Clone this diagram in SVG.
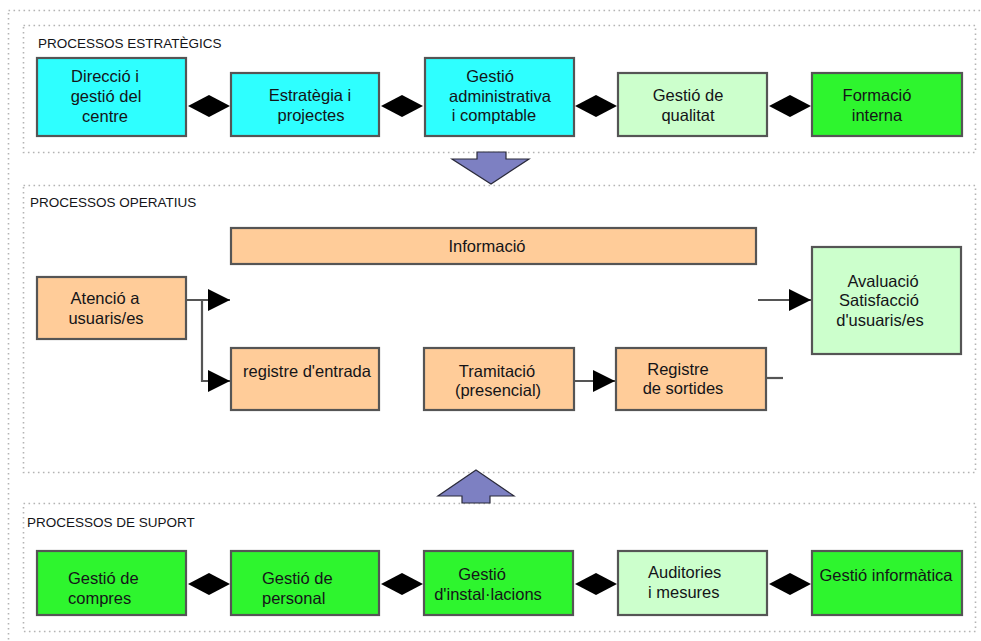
<svg xmlns="http://www.w3.org/2000/svg" width="981" height="641" viewBox="0 0 981 641">
  <style>
    .frame { fill: none; stroke: #b4b4b4; stroke-width: 1.6; stroke-dasharray: 1.6 3.4; }
    .box { stroke: #555; stroke-width: 2.2; }
    .cyan { fill: #2effff; }
    .pale { fill: #ccffcc; }
    .green { fill: #2ef52e; }
    .orange { fill: #ffcc99; }
    text { font-family: "Liberation Sans", Arial, sans-serif; font-size: 16.5px; fill: #141418; }
    .mid { text-anchor: middle; }
    .title { font-size: 13.5px; }
    .wire { fill: none; stroke: #555; stroke-width: 2.2; }
    .big { fill: #7d80c2; stroke: #2a2a3a; stroke-width: 1.2; stroke-linejoin: miter; }
  </style>
  <defs>
    <marker id="arrow" markerUnits="userSpaceOnUse" markerWidth="23" markerHeight="24" refX="22" refY="12" orient="auto">
      <path d="M0,1 L22,12 L0,23 z" fill="#000"/>
    </marker>
    <polygon id="diamond" points="-21,0 0,-11 21,0 0,11" fill="#000"/>
  </defs>

  <rect width="981" height="641" fill="#fff"/>

  <!-- dotted frames -->
  <rect class="frame" x="8.5" y="10.5" width="976" height="636"/>
  <rect class="frame" x="23.5" y="25.5" width="952" height="127"/>
  <rect class="frame" x="23.5" y="185.5" width="952" height="287"/>
  <rect class="frame" x="23.5" y="503.5" width="952" height="128"/>

  <text class="title" x="38" y="48">PROCESSOS ESTRATÈGICS</text>
  <text class="title" x="30" y="207">PROCESSOS OPERATIUS</text>
  <text class="title" x="27" y="527">PROCESSOS DE SUPORT</text>

  <!-- big flow arrows between layers -->
  <path class="big" d="M477,152 L506,152 L506,159 L529,159 L491,184 L452,159 L477,159 z"/>
  <path class="big" d="M476,470 L514,496 L490,496 L490,503 L462,503 L462,496 L438,496 z"/>

  <!-- connectors -->
  <g id="connectors">
    <use href="#diamond" x="209" y="106"/>
    <use href="#diamond" x="402" y="106"/>
    <use href="#diamond" x="596" y="106"/>
    <use href="#diamond" x="790" y="106"/>

    <use href="#diamond" x="209" y="584"/>
    <use href="#diamond" x="402" y="584"/>
    <use href="#diamond" x="596" y="584"/>
    <use href="#diamond" x="790" y="584"/>

    <path class="wire" d="M186,300 L230,300" marker-end="url(#arrow)"/>
    <path class="wire" d="M202,300 L202,381 L230,381" marker-end="url(#arrow)"/>
    <path class="wire" d="M574,381 L615,381" marker-end="url(#arrow)"/>
    <path class="wire" d="M766,378 L783,378"/>
    <path class="wire" d="M758,300 L811,300" marker-end="url(#arrow)"/>
  </g>

  <!-- strategic processes -->
  <g id="direccio">
    <rect class="box cyan" x="37" y="58" width="149" height="78"/>
    <text class="mid" x="105" y="82">Direcció i</text>
    <text class="mid" x="106" y="102">gestió del</text>
    <text class="mid" x="105" y="122">centre</text>
  </g>
  <g id="estrategia">
    <rect class="box cyan" x="231" y="73" width="148" height="63"/>
    <text class="mid" x="310" y="101">Estratègia i</text>
    <text class="mid" x="311" y="121">projectes</text>
  </g>
  <g id="gestio-administrativa">
    <rect class="box cyan" x="425" y="58" width="149" height="78"/>
    <text class="mid" x="490" y="82">Gestió</text>
    <text class="mid" x="500" y="102">administrativa</text>
    <text class="mid" x="494" y="121">i comptable</text>
  </g>
  <g id="qualitat">
    <rect class="box pale" x="618" y="73" width="149" height="63"/>
    <text class="mid" x="688" y="101">Gestió de</text>
    <text class="mid" x="688" y="121">qualitat</text>
  </g>
  <g id="formacio">
    <rect class="box green" x="812" y="73" width="150" height="63"/>
    <text class="mid" x="877" y="101">Formació</text>
    <text class="mid" x="877" y="121">interna</text>
  </g>

  <!-- operational processes -->
  <g id="informacio">
    <rect class="box orange" x="231" y="228" width="525" height="36"/>
    <text class="mid" x="487" y="252">Informació</text>
  </g>
  <g id="atencio">
    <rect class="box orange" x="37" y="277" width="149" height="62"/>
    <text class="mid" x="105" y="304">Atenció a</text>
    <text class="mid" x="106" y="324">usuaris/es</text>
  </g>
  <g id="registre-entrada">
    <rect class="box orange" x="231" y="348" width="148" height="62"/>
    <text class="mid" x="307" y="377">registre d'entrada</text>
  </g>
  <g id="tramitacio">
    <rect class="box orange" x="424" y="348" width="150" height="62"/>
    <text class="mid" x="497" y="377">Tramitació</text>
    <text class="mid" x="498" y="396">(presencial)</text>
  </g>
  <g id="registre-sortides">
    <rect class="box orange" x="616" y="348" width="150" height="62"/>
    <text class="mid" x="678" y="375">Registre</text>
    <text class="mid" x="683" y="394">de sortides</text>
  </g>
  <g id="avaluacio">
    <rect class="box pale" x="812" y="247" width="149" height="107"/>
    <text class="mid" x="883" y="287">Avaluació</text>
    <text class="mid" x="879" y="306">Satisfacció</text>
    <text class="mid" x="880" y="326">d'usuaris/es</text>
  </g>

  <!-- support processes -->
  <g id="compres">
    <rect class="box green" x="37" y="551" width="149" height="64"/>
    <text x="68" y="584">Gestió de</text>
    <text x="68" y="604">compres</text>
  </g>
  <g id="personal">
    <rect class="box green" x="231" y="551" width="148" height="64"/>
    <text x="262" y="584">Gestió de</text>
    <text x="262" y="604">personal</text>
  </g>
  <g id="installacions">
    <rect class="box green" x="424" y="551" width="149" height="64"/>
    <text class="mid" x="482" y="580">Gestió</text>
    <text class="mid" x="488" y="600">d'instal·lacions</text>
  </g>
  <g id="auditories">
    <rect class="box pale" x="618" y="551" width="149" height="64"/>
    <text x="648" y="578">Auditories</text>
    <text x="648" y="598">i mesures</text>
  </g>
  <g id="informatica">
    <rect class="box green" x="812" y="551" width="150" height="64"/>
    <text class="mid" x="886" y="581">Gestió informàtica</text>
  </g>
</svg>
